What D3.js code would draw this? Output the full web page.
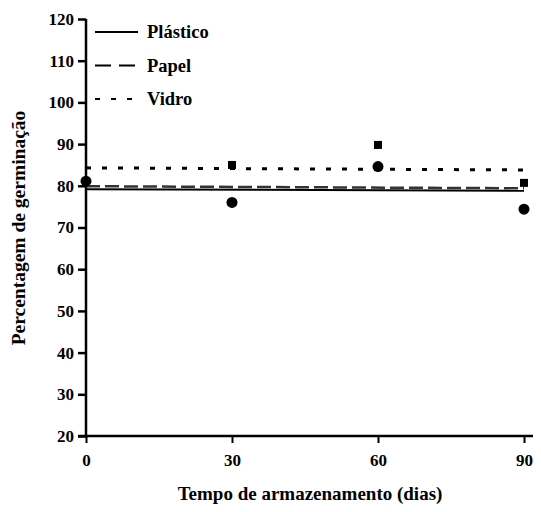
<!DOCTYPE html>
<html>
<head>
<meta charset="utf-8">
<script src="https://cdn.jsdelivr.net/npm/d3@7"></script>
<style>
  body { margin: 0; background: #fff; }
</style>
</head>
<body>
<svg width="541" height="512"></svg>
<script>
// dias de armazenamento
var dias = [0, 30, 60, 90];
var yTicks = [20, 30, 40, 50, 60, 70, 80, 90, 100, 110, 120];

// pontos observados
var circulos = [81.1, 76, 84.6, 74.4];
var quadrados = [null, 85, 89.8, 80.7];

// retas ajustadas (inicio, fim)
var series = ["Plástico", "Papel", "Vidro"];
var plastico = [79.2, 78.8];
var papel = [79.9, 79.4];
var vidro = [84.3, 83.8];

var svg = d3.select("svg");

var x = d3.scaleLinear().domain([0, 90]).range([86, 524]),
    y = d3.scaleLinear().domain([20, 120]).range([436, 19]);

function serif(sel, size) {
    sel.style("font-family", "'Liberation Serif', 'Times New Roman', serif")
        .style("font-weight", "bold")
        .style("font-size", size + "px")
        .style("fill", "#000");
}

// y axis
var gy = svg.append("g")
    .attr("transform", "translate(86,0)")
    .call(d3.axisLeft(y).tickValues(yTicks).tickSize(8).tickPadding(4));
gy.select(".domain").attr("stroke-width", 2.5).attr("d", "M0," + y(120) + "V" + (y(20) + 2));
gy.selectAll(".tick line").attr("stroke-width", 2.5);
serif(gy.selectAll(".tick text"), 17);

// x axis
var gx = svg.append("g")
    .attr("transform", "translate(0,436)")
    .call(d3.axisBottom(x).tickValues(dias).tickSize(7).tickPadding(11));
gx.select(".domain").attr("stroke-width", 2.5).attr("d", "M" + (x(0) - 8) + ",0H" + (x(90) + 9));
gx.selectAll(".tick line").attr("stroke-width", 2);
serif(gx.selectAll(".tick text"), 17);

// retas
var estilos = [
    { d: plastico, dash: null, w: 2, cor: "#000" },
    { d: papel, dash: "14,5", w: 2.5, cor: "#333" },
    { d: vidro, dash: "5,11", w: 3, cor: "#000" }
];
estilos.forEach(function (s) {
    svg.append("line")
        .attr("x1", x(0)).attr("x2", x(90))
        .attr("y1", y(s.d[0])).attr("y2", y(s.d[1]))
        .attr("stroke", s.cor)
        .attr("stroke-width", s.w)
        .attr("stroke-dasharray", s.dash);
});

// pontos
svg.selectAll(".circ")
    .data(circulos)
    .enter().append("circle")
    .attr("class", "circ")
    .attr("cx", function (d, i) { return x(dias[i]); })
    .attr("cy", function (d) { return y(d); })
    .attr("r", 5.5)
    .attr("fill", "#000");

svg.selectAll(".quad")
    .data(quadrados.map(function (d, i) { return { v: d, t: dias[i] }; }).filter(function (d) { return d.v != null; }))
    .enter().append("rect")
    .attr("class", "quad")
    .attr("x", function (d) { return x(d.t) - 4; })
    .attr("y", function (d) { return y(d.v) - 4; })
    .attr("width", 8)
    .attr("height", 8)
    .attr("fill", "#000");

// legenda
estilos.forEach(function (s, i) {
    var ly = 32 + i * 33.5;
    svg.append("line")
        .attr("x1", 95).attr("x2", 138)
        .attr("y1", ly).attr("y2", ly)
        .attr("stroke", "#000")
        .attr("stroke-width", 2)
        .attr("stroke-dasharray", i == 0 ? null : (i == 1 ? "16,8" : "5,11"));
    svg.append("text")
        .attr("x", 147).attr("y", ly + 6)
        .text(series[i])
        .call(serif, 18.5);
});

// titulos
svg.append("text")
    .attr("transform", "translate(25,228) rotate(-90)")
    .attr("text-anchor", "middle")
    .text("Percentagem de germinação")
    .call(serif, 19.5);

svg.append("text")
    .attr("x", 310).attr("y", 500)
    .attr("text-anchor", "middle")
    .text("Tempo de armazenamento (dias)")
    .call(serif, 19);
</script>
</body>
</html>
